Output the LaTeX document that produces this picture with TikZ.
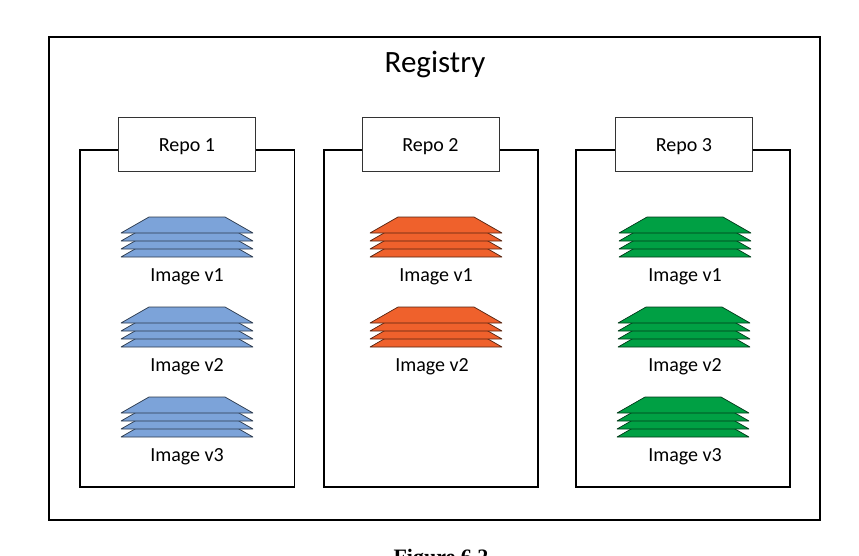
\documentclass[tikz,border=0pt]{standalone}
\usepackage{fontspec}
\setmainfont{Carlito}
\newfontfamily\captionfont{Liberation Serif}
\definecolor{layerblue}{HTML}{7CA3D9}
\definecolor{layerorange}{HTML}{EF612C}
\definecolor{layergreen}{HTML}{00A044}
% one stack of image layers: centre x, top y, fill colour
\newcommand{\imagestack}[3]{
	\foreach \layer in {24,16,8,0} {
		\draw[fill=#3,draw=black!65!#3,line width=0.7pt,line join=bevel] (#1-38,#2+\layer) -- (#1+38,#2+\layer) -- (#1+66,#2+\layer+16) -- (#1-66,#2+\layer+16) -- cycle;
	}
}
\begin{document}
\begin{tikzpicture}[x=1pt,y=-1pt]
		\tikzstyle{frame} = [draw=black,line width=1.3pt,fill=white]
		\tikzstyle{repobox} = [draw=black!80,line width=0.7pt,fill=white,minimum width=137pt,minimum height=54pt,text height=15pt,text depth=0pt,font=\fontsize{20}{24}\selectfont]
		\tikzstyle{imagelabel} = [font=\fontsize{20}{24}\selectfont]
		\useasboundingbox (0,0) rectangle (859,555);
		\fill[white] (0,0) rectangle (859,555);
		\draw[frame] (49,37) rectangle (820,520);
		\node[font=\fontsize{31}{36}\selectfont] (registry) at (435,64) {Registry};
		% repository frames
		\draw[frame] (80,150) rectangle (294.5,487);
		\draw[frame] (324,150) rectangle (538,487);
		\draw[frame] (576,150) rectangle (790,487);
		\node[repobox] (repoa) at (187,144) {Repo 1};
		\node[repobox] (repob) at (430.5,144) {Repo 2};
		\node[repobox] (repoc) at (684,144) {Repo 3};
		% image stacks
		\foreach \top/\ver in {217/1,307/2,397/3} {
			\imagestack{187}{\top}{layerblue}
			\node[imagelabel] (blue\ver) at (187,\top+60) {Image v\ver};
		}
		\imagestack{436}{217}{layerorange}
		\node[imagelabel] (orangea) at (436,277) {Image v1};
		\imagestack{436}{307}{layerorange}
		\node[imagelabel] (orangeb) at (432,367) {Image v2};
		\imagestack{685}{217}{layergreen}
		\node[imagelabel] (greena) at (685,277) {Image v1};
		\imagestack{684}{307}{layergreen}
		\node[imagelabel] (greenb) at (685,367) {Image v2};
		\imagestack{683}{397}{layergreen}
		\node[imagelabel] (greenc) at (685,457) {Image v3};
		\node[anchor=base,font=\fontsize{22}{24}\selectfont\bfseries\captionfont] (caption) at (441,564) {Figure 6.2};
	\end{tikzpicture}
\end{document}
